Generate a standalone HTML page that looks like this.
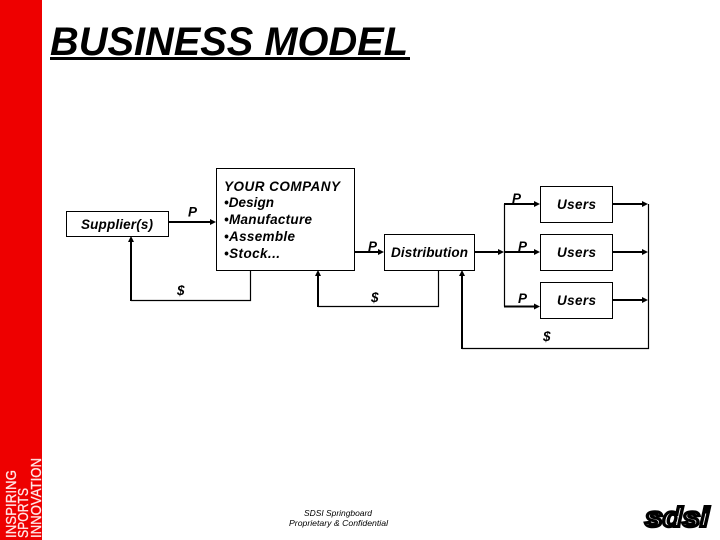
<!DOCTYPE html>
<html><head><meta charset="utf-8"><style>
html,body{margin:0;padding:0;background:#fff}
svg{display:block}
text{font-family:"Liberation Sans",sans-serif;font-weight:bold;font-style:italic;fill:#000}
.s text{font-size:13.5px}
.l{font-style:normal;font-weight:normal;fill:#ffe6e6;font-size:14.5px;stroke:#ffe6e6;stroke-width:.3}
</style></head><body>
<svg width="720" height="540" viewBox="0 0 720 540" xmlns="http://www.w3.org/2000/svg">
<rect width="720" height="540" fill="#fff"/>
<rect x="0" y="0" width="42" height="540" fill="#ee0000"/>
<text class="l" transform="translate(16,538) rotate(-90)" textLength="68" lengthAdjust="spacingAndGlyphs">INSPIRING</text>
<text class="l" transform="translate(28,538) rotate(-90)" textLength="50" lengthAdjust="spacingAndGlyphs">SPORTS</text>
<text class="l" transform="translate(41,538) rotate(-90)" textLength="80" lengthAdjust="spacingAndGlyphs">INNOVATION</text>

<text x="50" y="55" textLength="358" lengthAdjust="spacingAndGlyphs" style="font-size:40px">BUSINESS MODEL</text>
<rect x="50" y="57" width="360" height="3" fill="#000"/>

<g fill="#fff" stroke="#000" stroke-width="1">
<rect x="66.5" y="211.5" width="102" height="25"/>
<rect x="216.5" y="168.5" width="138" height="102"/>
<rect x="384.5" y="234.5" width="90" height="36"/>
<rect x="540.5" y="186.5" width="72" height="36"/>
<rect x="540.5" y="234.5" width="72" height="36"/>
<rect x="540.5" y="282.5" width="72" height="36"/>
</g>

<g fill="none" stroke="#000" stroke-width="1.2">
<path d="M250.5 270V300.5H131"/>
<path d="M438.5 270V306.5H318"/>
<path d="M504.5 204V306.5"/>
<path d="M648.5 204V348.5H462"/>
</g>
<g fill="none" stroke="#000" stroke-width="2">
<path d="M169 222H212"/>
<path d="M131 301V240"/>
<path d="M355 252H380"/>
<path d="M318 307V274"/>
<path d="M474 252H500"/>
<path d="M504 204H536M504 252H536M504 306.5H536"/>
<path d="M613 204H644M613 252H644M613 300H644"/>
<path d="M462 349V274"/>
</g>
<g fill="#000">
<path d="M216 222l-6-3v6z"/>
<path d="M131 236l-3 6h6z"/>
<path d="M384 252l-6-3v6z"/>
<path d="M318 270l-3 6h6z"/>
<path d="M504 252l-6-3v6z"/>
<path d="M540 204l-6-3v6zM540 252l-6-3v6zM540 306.5l-6-3v6z"/>
<path d="M648 204l-6-3v6zM648 252l-6-3v6zM648 300l-6-3v6z"/>
<path d="M462 270l-3 6h6z"/>
</g>

<g class="s">
<text x="81" y="229" textLength="72">Supplier(s)</text>
<text x="224" y="191" textLength="116">YOUR COMPANY</text>
<text x="224" y="207" textLength="50">•Design</text>
<text x="224" y="224" textLength="88">•Manufacture</text>
<text x="224" y="241" textLength="71">•Assemble</text>
<text x="224" y="258" textLength="56">•Stock...</text>
<text x="188" y="216.5">P</text>
<text x="177" y="295">$</text>
<text x="368" y="251">P</text>
<text x="371" y="302">$</text>
<text x="391" y="257" textLength="77">Distribution</text>
<text x="512" y="203">P</text>
<text x="518" y="251">P</text>
<text x="518" y="303">P</text>
<text x="543" y="341">$</text>
<text x="557" y="209" textLength="39">Users</text>
<text x="557" y="257" textLength="39">Users</text>
<text x="557" y="305" textLength="39">Users</text>
</g>

<text x="304" y="516" textLength="68" lengthAdjust="spacingAndGlyphs" style="font-size:8.5px;font-weight:normal">SDSI Springboard</text>
<text x="289" y="526" textLength="99" lengthAdjust="spacingAndGlyphs" style="font-size:8.5px;font-weight:normal">Proprietary &amp; Confidential</text>

<text x="645" y="526.5" textLength="64" lengthAdjust="spacingAndGlyphs" style="font-size:28px;fill:#fff;stroke:#000;stroke-width:3">sdsi</text>
</svg>
</body></html>
